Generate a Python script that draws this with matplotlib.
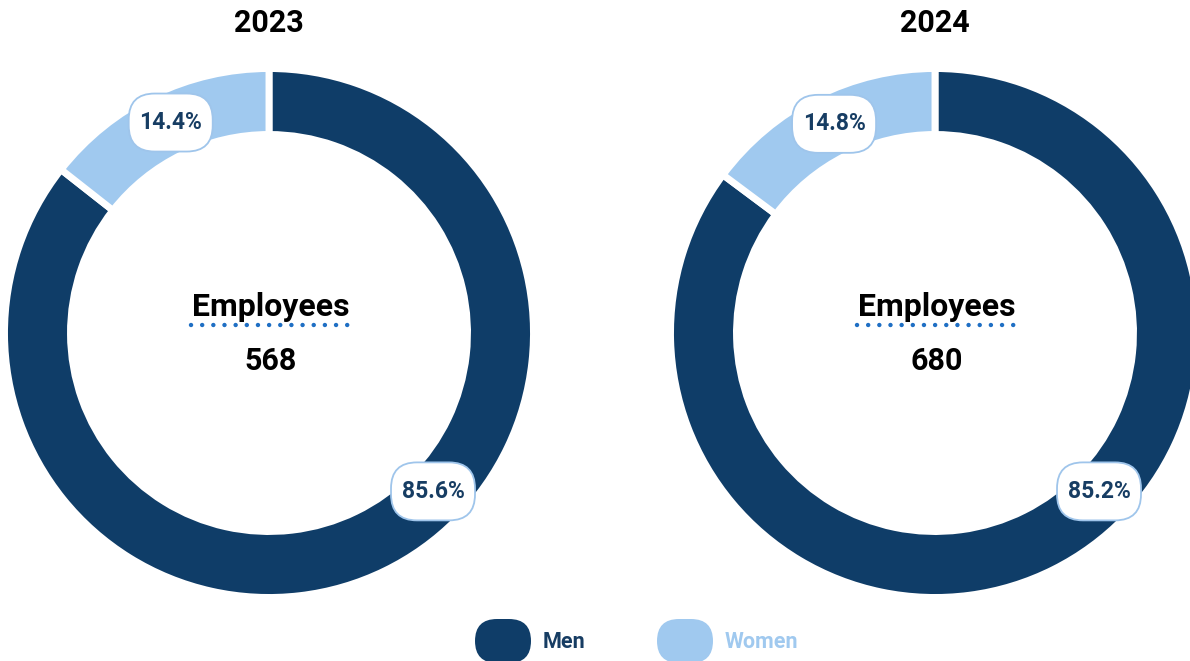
import numpy as np
import matplotlib.pyplot as plt
from matplotlib.patches import FancyBboxPatch

# data
years = ["2023", "2024"]
totals = [568, 680]
men = [85.6, 85.2]
women = [14.4, 14.8]
groups = ["Men", "Women"]
colors = ["#0f3d68", "#a0c9ef"]
text_dark = "#173d63"

W, H = 1190, 661
fig = plt.figure(figsize=(W / 100, H / 100), dpi=100)
ax = fig.add_axes([0, 0, 1, 1])
ax.set_xlim(0, W); ax.set_ylim(0, H)
ax.set_aspect("equal"); ax.axis("off")

fnt = "Roboto"
centers = [(269, 328), (935, 328)]
R, ring = 264.5, 66


def label(x, y, s):
    bw, bh, rs = 84, 58, 26
    ax.add_patch(FancyBboxPatch((x - bw / 2 + rs, y - bh / 2 + rs), bw - 2 * rs, bh - 2 * rs,
                                boxstyle=f"round,pad={rs}", fc="white", ec="#9fc5eb", lw=1.3, zorder=5))
    ax.text(x, y, s, ha="center", va="center", fontsize=16.5, fontweight="bold",
            family=fnt, color=text_dark, zorder=6)


for i, (cx, cy) in enumerate(centers):
    vals = [men[i], women[i]]
    ax.pie(vals, colors=colors, startangle=90, counterclock=False, center=(cx, cy), radius=R,
           wedgeprops=dict(width=ring, edgecolor="white", linewidth=5), frame=True)
    # title
    ax.text(cx, H - 23, years[i], ha="center", va="center", fontsize=22, fontweight="bold",
            family=fnt, color="black")
    # centre texts
    ax.text(cx + 2, H - 307, "Employees", ha="center", va="center", fontsize=23, fontweight="bold",
            family=fnt, color="black")
    ax.text(cx + 2, H - 361, str(totals[i]), ha="center", va="center", fontsize=22, fontweight="bold",
            family=fnt, color="black")
    ax.plot([cx - 78, cx + 82], [H - 325, H - 325], color="#1f6fc4", lw=3.2,
            linestyle=(0, (0.01, 2.5)), dash_capstyle="round", solid_capstyle="round")
    # labels
    a_w = np.deg2rad(90 + women[i] * 3.6 / 2)
    r_l = 234
    label(cx + r_l * np.cos(a_w) + 4, cy + r_l * np.sin(a_w), f"{women[i]}%")
    a_m = np.deg2rad(-44)
    label(cx + 228 * np.cos(a_m), cy + 228 * np.sin(a_m), f"{men[i]}%")

ax.set_xlim(0, W); ax.set_ylim(0, H)

# legend
leg_x = [503, 685]
txt_col = [text_dark, colors[1]]
for g, c, lx, tc in zip(groups, colors, leg_x, txt_col):
    ax.add_patch(FancyBboxPatch((lx - 6, H - 641), 12, 0,
                                boxstyle="round,pad=22", fc=c, ec="none"))
    ax.text(lx + 40, H - 642, g, ha="left", va="center", fontsize=15.5, fontweight="bold",
            family=fnt, color=tc)

fig.savefig("out.png", dpi=100)
